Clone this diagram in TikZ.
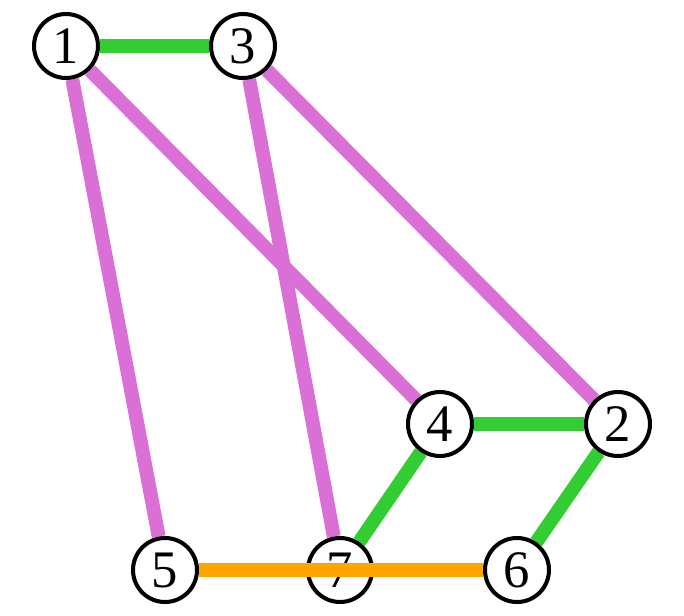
\documentclass[tikz,border=0pt]{standalone}
\usepackage{fontspec}
\setmainfont{Liberation Serif}
\usetikzlibrary{backgrounds}
\definecolor{vio}{RGB}{218,112,214}
\definecolor{grn}{RGB}{50,205,50}
\definecolor{org}{RGB}{255,165,0}
\begin{document}
\begin{tikzpicture}[x=0.02cm,y=-0.02cm,
  vert/.style={circle,draw,line width=2.3pt,fill=white,minimum size=1.28cm,inner sep=0pt,font=\fontsize{30}{30}\selectfont},
  edge/.style={line width=7.9pt}]
\useasboundingbox (0,0) rectangle (684,616);
\node[vert] (n1) at (66,46) {1};
\node[vert] (n3) at (243,46) {3};
\node[vert] (n4) at (440,424) {4};
\node[vert] (n2) at (618,424) {2};
\node[vert] (n5) at (165,570) {5};
\node[vert] (n7) at (340,570) {7};
\node[vert] (n6) at (517,570) {6};
\begin{scope}[on background layer]
\draw[edge,vio] (n1) -- (n5);
\draw[edge,vio] (n1) -- (n4);
\draw[edge,vio] (n3) -- (n7);
\draw[edge,vio] (n3) -- (n2);
\draw[edge,grn] (n1) -- (n3);
\draw[edge,grn] (n4) -- (n2);
\draw[edge,grn] (n4) -- (n7);
\draw[edge,grn] (n2) -- (n6);
\end{scope}
% goes over node 7
\draw[edge,org] (n5) -- (n6);
\end{tikzpicture}
\end{document}
